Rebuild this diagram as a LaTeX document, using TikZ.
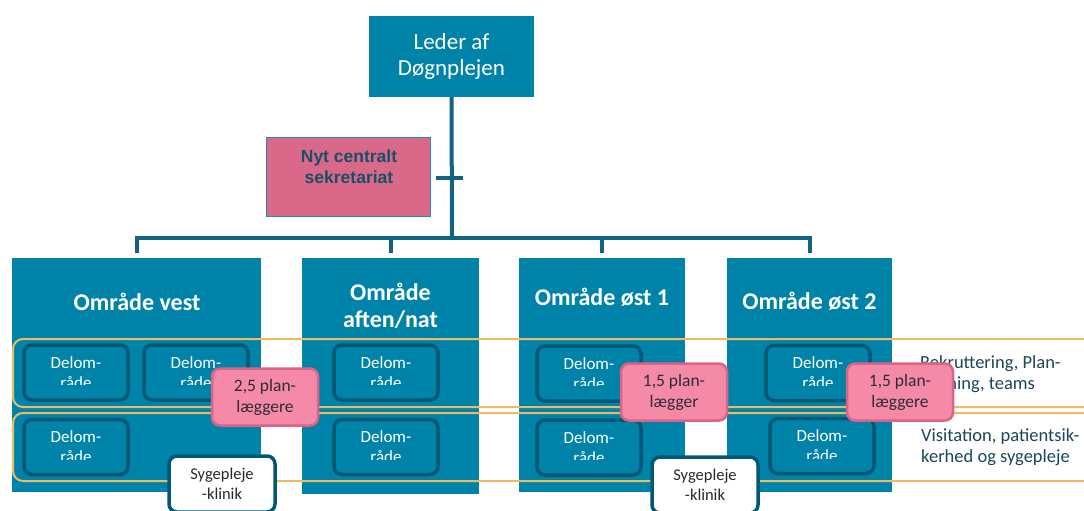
\documentclass[tikz,border=0pt]{standalone}
\usepackage{fontspec}
\setmainfont{Carlito}
\newfontfamily\secfont{Liberation Sans}
\usetikzlibrary{calc}

\definecolor{areablue}{RGB}{0,131,168}
\definecolor{busblue}{RGB}{16,100,130}
\definecolor{delomline}{RGB}{0,88,118}
\definecolor{bandorange}{RGB}{240,186,100}
\definecolor{planpink}{RGB}{244,138,168}
\definecolor{planedge}{RGB}{220,98,134}
\definecolor{plantext}{RGB}{45,45,55}
\definecolor{klinikt}{RGB}{40,40,45}
\definecolor{sidecol}{RGB}{25,70,90}
\definecolor{sekpink}{RGB}{218,104,137}
\definecolor{sekedge}{RGB}{30,140,180}
\definecolor{sektxt}{RGB}{22,80,105}

\tikzset{
  areabox/.style={fill=areablue, draw=none, inner sep=0},
  areatitle/.style={text=white, font=\fontsize{24}{27}\selectfont\bfseries, align=center, inner sep=0},
  topbox/.style={fill=areablue, inner sep=0, minimum width=165, minimum height=81,
    text=white, font=\fontsize{23}{26}\selectfont, align=center},
  bus/.style={draw=busblue, line width=4pt},
  band/.style={draw=bandorange, line width=2pt, rounded corners=10pt},
  delombox/.style={fill=areablue, draw=delomline, line width=3.5pt, rounded corners=8pt,
    minimum width=104, minimum height=55, inner sep=0},
  delomtext/.style={text=white, font=\fontsize{17}{20}\selectfont, align=center, inner sep=0},
  planbox/.style={fill=planpink, draw=planedge, line width=2.5pt, rounded corners=8pt,
    minimum width=106, minimum height=57, inner sep=0, text=plantext,
    font=\fontsize{17.5}{21}\selectfont, align=center},
  klinikbox/.style={fill=white, draw=delomline, line width=3.5pt, rounded corners=8pt,
    minimum width=106, minimum height=56, inner sep=0, text=klinikt,
    font=\fontsize{16.5}{19.5}\selectfont, align=center},
  sidetext/.style={text=sidecol, font=\fontsize{18.5}{21}\selectfont, align=left,
    inner sep=0, anchor=west},
  sekbox/.style={fill=sekpink, draw=sekedge, line width=1.5pt,
    minimum width=164, minimum height=79, inner sep=0},
  sektext/.style={text=sektxt, font=\secfont\bfseries\fontsize{17.5}{21}\selectfont,
    align=center, inner sep=0},
}

% a sub-area box whose label is cut off at its lower part
\newcommand{\delomraade}[3]{%
  \node[delombox] (#1) at (#2,#3) {};
  \begin{scope}
    \clip (#1.north west) rectangle ($(#1.north east)+(0,41.5)$);
    \node[delomtext] (#1-txt) at (#1.center) {Delom-\\råde};
  \end{scope}}

\begin{document}
\begin{tikzpicture}[x=1pt,y=-1pt]
\useasboundingbox (0,0) rectangle (1084,511);
\clip (0,0) rectangle (1084,511);

% area columns
\node[areabox, minimum width=249, minimum height=234] (vest)  at (136.5,375) {};
\node[areabox, minimum width=177, minimum height=236] (aften) at (390.5,376) {};
\node[areabox, minimum width=166, minimum height=234] (oest1) at (602,375) {};
\node[areabox, minimum width=165, minimum height=234] (oest2) at (809.5,375) {};

\node[areatitle] (vest-t)  at (137,302)   {Område vest};
\node[areatitle] (aften-t) at (390.5,306) {Område\\aften/nat};
\node[areatitle] (oest1-t) at (602,297)   {Område øst 1};
\node[areatitle] (oest2-t) at (809.5,301) {Område øst 2};

% function bands across all areas
\draw[band] (13,339) rectangle (1110,407);
\draw[band] (13,413) rectangle (1110,481);

% sub-areas
\delomraade{v1}{76}{372.5}
\delomraade{v2}{196}{372.5}
\delomraade{v3}{76}{447}
\delomraade{a1}{386}{372.5}
\delomraade{a2}{386}{447}
\delomraade{o1a}{589}{373.5}
\delomraade{o1b}{589}{447.5}
\delomraade{o2a}{818}{373}
\delomraade{o2b}{822}{446}

% band labels
\node[sidetext] (rek) at (920,374.5) {Rekruttering, Plan-\\lægning, teams};
\node[sidetext] (vis) at (921,447) {Visitation, patientsik-\\kerhed og sygepleje};

% planners
\node[planbox] (plan-v)  at (265,397) {2,5 plan-\\læggere};
\node[planbox] (plan-o1) at (674,392) {1,5 plan-\\lægger};
\node[planbox] (plan-o2) at (900,392) {1,5 plan-\\læggere};

% nursing clinics
\node[klinikbox] (klinik-v)  at (222,484) {Sygepleje\\-klinik};
\node[klinikbox] (klinik-o1) at (705,485) {Sygepleje\\-klinik};

% management
\node[topbox] (leder) at (451.5,56.5) {Leder af\\Døgnplejen};
\node[sekbox] (sek) at (348.5,177) {};
\node[sektext] (sek-t) at (349,167) {Nyt centralt\\sekretariat};

% hierarchy lines
\coordinate (bus) at (452,238);
\coordinate (crossL) at (436,178);
\coordinate (crossR) at (463,178);
\draw[bus] (leder.south) -- (bus);
\draw[bus] (crossL) -- (crossR);
\draw[bus] ($(vest.north)+(0,-5)$) |- ($(oest2.north)+(0,-20)$) -- ($(oest2.north)+(0,-5)$);
\draw[bus] ($(aften.north)+(0,-5)$) -- ($(aften.north)+(0,-20)$);
\draw[bus] ($(oest1.north)+(0,-5)$) -- ($(oest1.north)+(0,-20)$);
\end{tikzpicture}
\end{document}
